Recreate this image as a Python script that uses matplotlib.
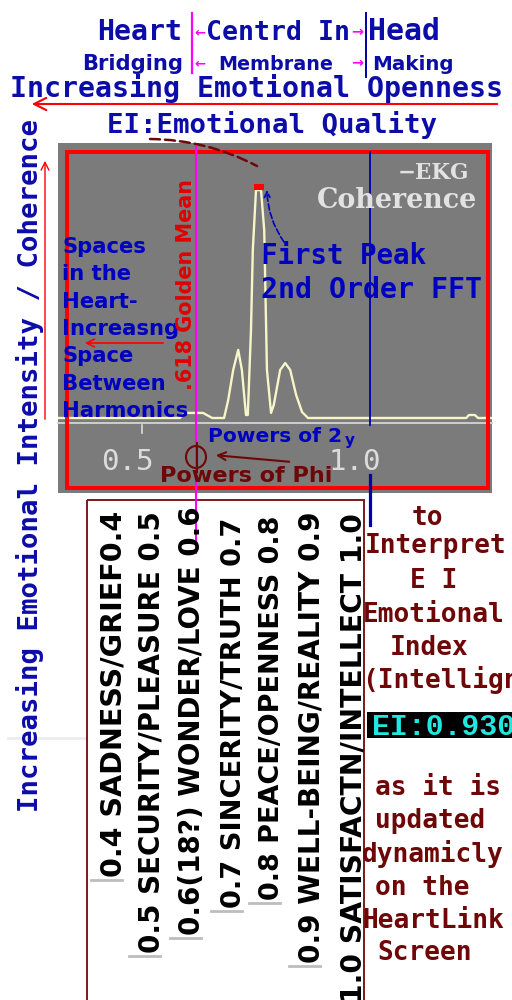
import matplotlib
matplotlib.use('Agg')
import matplotlib.pyplot as plt
import matplotlib.transforms as mtransforms
from matplotlib.patches import Rectangle, Ellipse

# ---------------- data ----------------
ei_axis = [0.316, 0.583, 0.594, 0.634, 0.654, 0.680, 0.689, 0.700, 0.711, 0.719, 0.728, 0.732,
           0.739, 0.743, 0.750, 0.761, 0.768, 0.774, 0.783, 0.789, 0.803, 0.814, 0.825, 0.838,
           0.851, 0.864, 1.211, 1.217, 1.230, 1.237, 1.268]
coherence = [0, 0, 2.2, 2.2, 0, 0, 7.8, 20.9, 29.6, 20.9, 1.3, 1.3,
             38.3, 73.0, 99.1, 99.1, 81.7, 20.9, 2.2, 5.7, 20.9, 23.9, 20.9, 10.0,
             2.6, 0, 0, 1.3, 1.3, 0, 0]
tick_values = [0.5, 1.0]
tick_labels = ['0.5', '1.0']
golden_mean = 0.618
unit_mark = 1.0
ei_value = 0.930
emotion_labels = ['0.4 SADNESS/GRIEF0.4',
                  '0.5 SECURITY/PLEASURE 0.5',
                  '0.6(18?) WONDER/LOVE 0.6',
                  '0.7 SINCERITY/TRUTH 0.7',
                  '0.8 PEACE/OPENNESS 0.8',
                  '0.9 WELL-BEING/REALITY 0.9',
                  '1.0 SATISFACTN/INTELLECT 1.0']
heart_lines = ['Spaces', 'in the', 'Heart-', 'Increasng', 'Space', 'Between', 'Harmonics']
explain_top = ['to', 'Interpret', 'E I', 'Emotional', 'Index', '(Intellign']
explain_bottom = ['as it is', 'updated', 'dynamicly', 'on the', 'HeartLink', 'Screen']

# ---------------- style ----------------
BLUE = '#0c0ca8'
BLUE2 = '#0000c0'
DRED = '#6e0808'
RED = '#ff0000'
PINK = '#ff00ff'
GRAY = '#7b7b7b'
LGRAY = '#dcdcdc'
MONO = ['DejaVu Sans Mono']
SANS = ['DejaVu Sans']
NARROW = ['DejaVu Sans']

W, H = 512, 1000
fig = plt.figure(figsize=(5.12, 10), dpi=100)
fig.patch.set_facecolor('white')

# pixel mapping used for chart layout
X0_PX, X_SCALE = 142, 456.0   # px of EI 0.5, px per EI unit
BASE_PX, Y_SCALE = 418, 2.3   # px of zero coherence, px per coherence unit
L, R_, T, B = 58, 492, 143, 493

ax = fig.add_axes([L / W, 1 - B / H, (R_ - L) / W, (B - T) / H])
ax.set_facecolor(GRAY)
ax.set_xlim(0.5 + (L - X0_PX) / X_SCALE, 0.5 + (R_ - X0_PX) / X_SCALE)
ax.set_ylim((BASE_PX - B) / Y_SCALE, (BASE_PX - T) / Y_SCALE)
for s in ax.spines.values():
    s.set_visible(False)
ax.set_xticks([])
ax.set_yticks([])
ax.set_zorder(1)

ov = fig.add_axes([0, 0, 1, 1])
ov.set_xlim(0, W)
ov.set_ylim(H, 0)
ov.axis('off')
ov.set_zorder(2)
blend = mtransforms.blended_transform_factory(ax.transData, ov.transData)

Rdr = fig.canvas.get_renderer()


def fit_text(s, x0, x1, y, **kw):
    t = ov.text(x0, y, s, fontsize=10, va='baseline', ha='left', clip_on=False, zorder=5, **kw)
    w = t.get_window_extent(Rdr).width
    t.set_fontsize(10 * (x1 - x0) / w)
    return t


def fit_vtext(s, x, y0, y1, **kw):
    t = ov.text(x, y0, s, fontsize=10, rotation=90, rotation_mode='anchor',
                ha='left', va='baseline', clip_on=False, zorder=5, **kw)
    h = t.get_window_extent(Rdr).height
    t.set_fontsize(10 * (y0 - y1) / h)
    return t


# ---------------- signal ----------------
ax.plot(ei_axis, coherence, color='#f6f6c8', lw=1.7, zorder=3)
pk = max(coherence)
pk_x = [x for x, c in zip(ei_axis, coherence) if c == pk]
pk_c = sum(pk_x) / len(pk_x)
ax.add_patch(Rectangle((pk_c - 5 / X_SCALE, pk), 10 / X_SCALE, 6 / Y_SCALE,
                       facecolor=RED, edgecolor='none', zorder=4))

# axis line and ticks
ov.plot([L, R_], [423, 423], color='#d4d4d4', lw=1.3, zorder=2)
for v in tick_values[:1]:
    ov.plot([v, v], [425, 433], transform=blend, color=LGRAY, lw=1.2, zorder=2)
for v, lab in zip(tick_values, tick_labels):
    ov.annotate(lab, xy=(v, 470), xycoords=blend, xytext=(-10.8, 0), textcoords='offset points',
                ha='center', va='baseline', fontsize=21, family=MONO, color=LGRAY, zorder=4)

# red border
ov.add_patch(Rectangle((67, 152), 488 - 67, 488 - 152, fill=False, edgecolor=RED, lw=2.9, zorder=2))

# vertical markers
ov.plot([golden_mean] * 2, [147, 553], transform=blend, color=PINK, lw=1.5, clip_on=False, zorder=3)
ov.plot([unit_mark] * 2, [152, 425], transform=blend, color='#0000b0', lw=1.3, clip_on=False, zorder=3)
ov.plot([unit_mark] * 2, [475, 525], transform=blend, color='#0000b0', lw=2.3, clip_on=False, zorder=3)

# ---------------- header ----------------
fit_text('Heart', 97, 182, 40, family=MONO, weight='bold', color=BLUE)
fit_text('Centrd In', 206, 350, 40, family=MONO, weight='bold', color=BLUE)
fit_text('Head', 368, 440, 40, family=MONO, weight='bold', color=BLUE)
fit_text('Bridging', 82, 182, 70, family=SANS, weight='bold', color=BLUE)
fit_text('Membrane', 218, 333, 70, family=SANS, weight='bold', color=BLUE)
fit_text('Making', 372, 453, 70, family=SANS, weight='bold', color=BLUE)
for yb in (36, 67):
    fit_text('\u2190', 194, 205, yb, family=SANS, weight='bold', color=PINK)
    fit_text('\u2192', 351, 363, yb, family=SANS, weight='bold', color=PINK)
ov.plot([192, 192], [13, 73], color=PINK, lw=1.6, zorder=3)
ov.plot([365.5, 365.5], [13, 77], color='#0000a0', lw=1.4, zorder=3)

fit_text('Increasing Emotional Openness', 10, 505, 97, family=MONO, weight='bold', color=BLUE)
ov.annotate('', xy=(29, 104), xytext=(500, 104),
            arrowprops=dict(arrowstyle='->', color=RED, lw=1.5, mutation_scale=22))
fit_text('EI:Emotional Quality', 107, 437, 133, family=MONO, weight='bold', color=BLUE)
ov.annotate('', xy=(257, 166), xytext=(150, 139),
            arrowprops=dict(arrowstyle='-', color=DRED, lw=1.8, linestyle=(0, (4, 2)),
                            connectionstyle='arc3,rad=-0.12', shrinkA=0, shrinkB=0))

# left side
fit_vtext('Increasing Emotional Intensity / Coherence', 38, 812, 117,
          family=MONO, weight='bold', color=BLUE)
ov.annotate('', xy=(45, 158), xytext=(45, 422),
            arrowprops=dict(arrowstyle='->', color=RED, lw=1.0, mutation_scale=14))
ov.plot([8, 85], [738, 738], color='#ececec', lw=2, zorder=1)

# ---------------- chart annotations ----------------
fit_text('\u2212EKG', 398, 470, 179, family=['DejaVu Serif'], weight='bold', color='#e2e2e2')
fit_text('Coherence', 317, 478, 208, family=['DejaVu Serif'], weight='bold', color='#e2e2e2')
fit_text('First Peak', 261, 427, 264, family=MONO, weight='bold', color=BLUE2)
fit_text('2nd Order FFT', 261, 482, 298, family=MONO, weight='bold', color=BLUE2)
ov.annotate('', xy=(267, 190), xytext=(284, 242),
            arrowprops=dict(arrowstyle='->', color=BLUE2, lw=1.2, linestyle='--',
                            connectionstyle='arc3,rad=-0.15', shrinkA=0, shrinkB=0))

ref = fit_text(heart_lines[-1], 62, 188, 417, family=SANS, weight='bold', color=BLUE2)
fs = ref.get_fontsize()
for i, line in enumerate(heart_lines[:-1]):
    ov.text(62, 253 + 27.3 * i, line, fontsize=fs, family=SANS, weight='bold', color=BLUE2,
            va='baseline', ha='left', zorder=5)
ov.annotate('', xy=(82, 343), xytext=(166, 343),
            arrowprops=dict(arrowstyle='->', color=RED, lw=1.2, mutation_scale=14))
fit_vtext('.618 Golden Mean', 192, 390, 178, family=SANS, weight='bold', color='#e00000')

p2 = fit_text('Powers of 2', 208, 343, 442, family=SANS, weight='bold', color=BLUE2)
ov.text(345, 445, 'y', fontsize=p2.get_fontsize() * 0.75, family=SANS, weight='bold',
        color=BLUE2, va='baseline', ha='left', zorder=5)
fit_text('Powers of Phi', 160, 333, 482, family=SANS, weight='bold', color=DRED)
ov.add_patch(Ellipse((196, 457), 20, 22, fill=False, edgecolor=DRED, lw=1.5, zorder=4))
ov.plot([197, 197], [443, 472], color=DRED, lw=1.5, zorder=4)
ov.annotate('', xy=(213, 455), xytext=(292, 462),
            arrowprops=dict(arrowstyle='->', color=DRED, lw=1.5, mutation_scale=14))

# ---------------- emotion label box ----------------
ov.add_patch(Rectangle((87, 500), 364 - 87, 510, fill=False, edgecolor='#7a1a1a', lw=1.4, zorder=2))
lab_x = [121, 159, 200, 241, 279, 319, 361]
lab_bottom = [877, 953, 935, 908, 900, 963, 1003]
lab_top = [510, 510, 506, 515, 515, 512, 512]
for s, x, yb, yt in zip(emotion_labels, lab_x, lab_bottom, lab_top):
    fit_vtext(s, x, yb, yt, family=NARROW, weight='bold', color='black')
    ov.plot([x - 30, x + 1], [yb + 3, yb + 3], color='#bdbdbd', lw=2, zorder=3)

# ---------------- right explanation ----------------
ref2 = fit_text(explain_top[1], 365, 507, 553, family=MONO, weight='bold', color=DRED)
fs2 = ref2.get_fontsize()
top_pos = [(412, 525), None, (410, 588), (363, 622), (390, 655), (362, 688)]
for s, p in zip(explain_top, top_pos):
    if p is None:
        continue
    ov.text(p[0], p[1], s, fontsize=fs2, family=MONO, weight='bold', color=DRED,
            va='baseline', ha='left', zorder=5)
bot_pos = [(375, 795), (375, 828), (362, 862), (375, 895), (362, 928), (377, 960)]
for s, p in zip(explain_bottom, bot_pos):
    ov.text(p[0], p[1], s, fontsize=fs2, family=MONO, weight='bold', color=DRED,
            va='baseline', ha='left', zorder=5)

ov.add_patch(Rectangle((367, 712), 150, 26, facecolor='black', edgecolor='none', zorder=4, clip_on=False))
fit_text(f'EI:{ei_value:.3f}', 372, 516, 735, family=['Liberation Mono'], weight='bold', color='#22e6e0')

fig.savefig('out.png', dpi=100)
